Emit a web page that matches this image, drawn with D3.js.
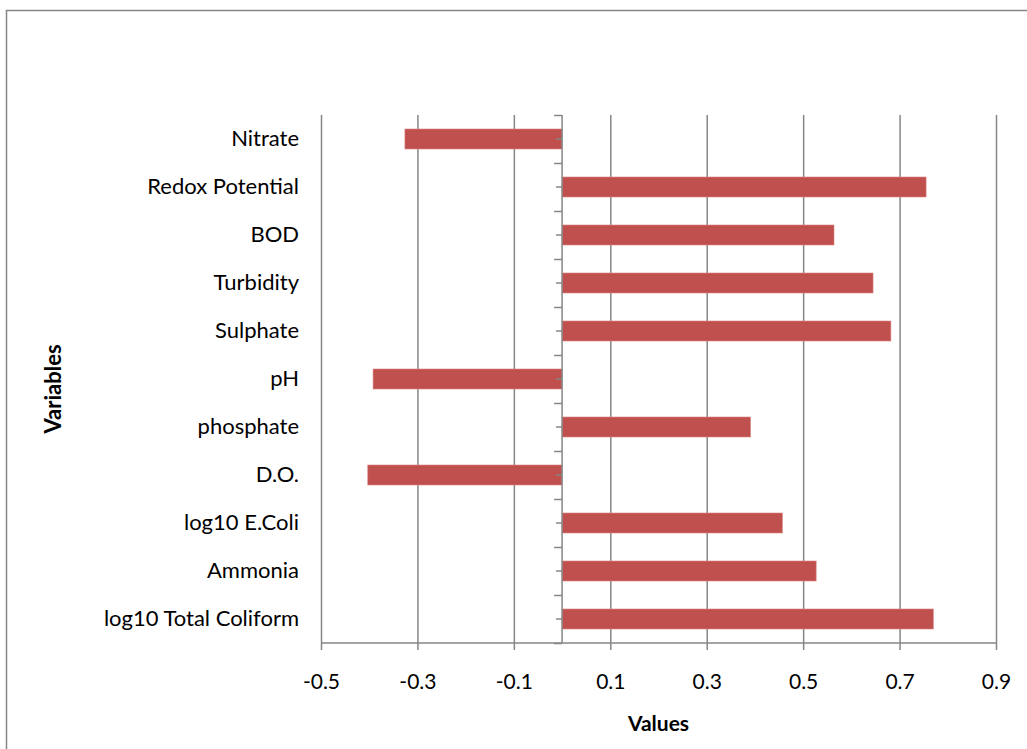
<!DOCTYPE html>
<html>
<head>
<meta charset="utf-8">
<script src="https://cdn.jsdelivr.net/npm/d3@7"></script>
<style>
  html, body { margin: 0; padding: 0; background: #ffffff; }
  svg { display: block; }
  text { font-family: Lato, "Open Sans", sans-serif; fill: #000; }
</style>
</head>
<body>
<svg id="chart" width="1027" height="749"></svg>
<script>
// Variables, top to bottom
const categories = [
  "Nitrate", "Redox Potential", "BOD", "Turbidity", "Sulphate", "pH",
  "phosphate", "D.O.", "log10 E.Coli", "Ammonia", "log10 Total Coliform"
];
const values = [
  -0.326, 0.755, 0.564, 0.645, 0.682, -0.392,
  0.391, -0.403, 0.457, 0.527, 0.770
];
const xTicks = [-0.5, -0.3, -0.1, 0.1, 0.3, 0.5, 0.7, 0.9];
const xTitle = "Values";
const yTitle = "Variables";

const W = 1027, H = 749;
const plot = { left: 321, right: 996, top: 115, bottom: 643 };
const gridColor = "#868686";
const barColor = "#C0504D";

const svg = d3.select("#chart");

// outer chart border
svg.append("rect")
  .attr("x", 6.5).attr("y", 10.5)
  .attr("width", W + 20).attr("height", H + 20)
  .attr("fill", "none").attr("stroke", gridColor).attr("stroke-width", 1.5);

const x = d3.scaleLinear().domain([-0.5, 0.9]).range([plot.left, plot.right]);
const y = d3.scaleBand().domain(categories)
  .range([plot.top, plot.bottom])
  .paddingInner(0.583).paddingOuter(0.2915);
const yEdges = d3.scaleLinear().domain([0, categories.length]).range([plot.top, plot.bottom]);

// vertical gridlines
const grid = svg.append("g")
  .attr("transform", `translate(0,${plot.bottom})`)
  .call(d3.axisBottom(x).tickValues(xTicks).tickSize(-(plot.bottom - plot.top)).tickFormat(""));
grid.select(".domain").remove();
grid.selectAll("line").attr("stroke", gridColor).attr("stroke-width", 1.5);

// bars
svg.append("g").selectAll("rect")
  .data(categories)
  .join("rect")
  .attr("x", (d, i) => x(Math.min(0, values[i])))
  .attr("width", (d, i) => Math.abs(x(values[i]) - x(0)))
  .attr("y", d => y(d))
  .attr("height", y.bandwidth())
  .attr("fill", barColor)
  .attr("stroke", "#d98a88").attr("stroke-width", 0.6);

// x axis
const xAxis = svg.append("g")
  .attr("transform", `translate(0,${plot.bottom})`)
  .call(d3.axisBottom(x).tickValues(xTicks).tickSize(7).tickPadding(24)
    .tickFormat(d => d.toFixed(1)));
xAxis.select(".domain").attr("stroke", gridColor).attr("stroke-width", 1.5)
  .attr("d", `M${plot.left},0H${plot.right}`);
xAxis.selectAll("line").attr("stroke", gridColor).attr("stroke-width", 1.5);
xAxis.selectAll("text").style("font-size", "21px").attr("font-family", "Lato");

// y axis at zero: boundary ticks
const yEdgeAxis = svg.append("g")
  .attr("transform", `translate(${x(0)},0)`)
  .call(d3.axisLeft(yEdges).tickValues(d3.range(categories.length + 1)).tickSize(8).tickFormat(""));
yEdgeAxis.select(".domain").attr("stroke", gridColor).attr("stroke-width", 1.5)
  .attr("d", `M0,${plot.top}V${plot.bottom}`);
yEdgeAxis.selectAll("line").attr("stroke", gridColor).attr("stroke-width", 1.5);

// y axis category ticks and labels
const yAxis = svg.append("g")
  .attr("transform", `translate(${x(0)},0)`)
  .call(d3.axisLeft(y).tickSize(6).tickPadding(x(0) - 6 - 299));
yAxis.select(".domain").remove();
yAxis.selectAll("line").attr("stroke", gridColor).attr("stroke-width", 1.5);
yAxis.selectAll("text").style("font-size", "22px").attr("font-family", "Lato");

// axis titles
svg.append("text")
  .attr("x", (plot.left + plot.right) / 2).attr("y", 722)
  .attr("text-anchor", "middle").attr("dominant-baseline", "central")
  .style("font-size", "21px").style("font-weight", "bold")
  .text(xTitle);

svg.append("text")
  .attr("transform", `translate(52,389) rotate(-90)`)
  .attr("text-anchor", "middle").attr("dominant-baseline", "central")
  .style("font-size", "22px").style("font-weight", "bold")
  .text(yTitle);
</script>
</body>
</html>
